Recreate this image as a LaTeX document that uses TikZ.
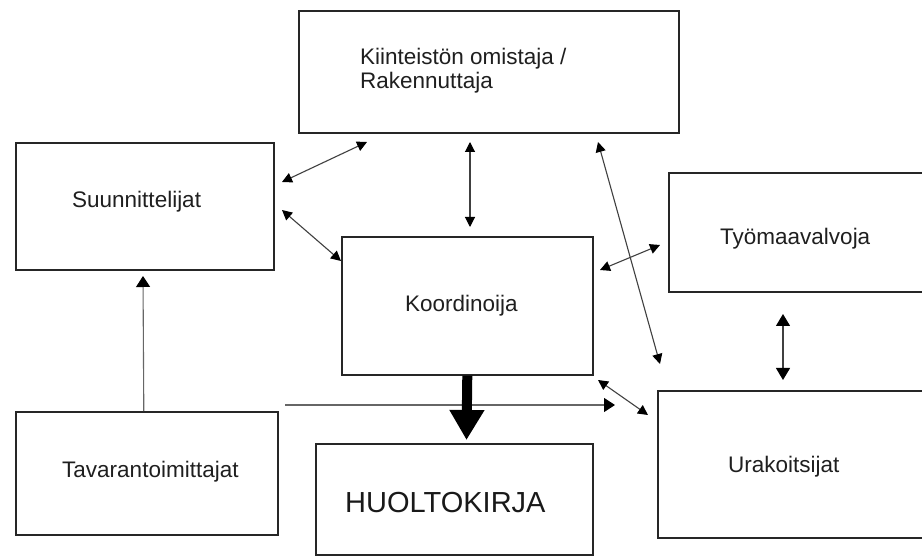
\documentclass[tikz,border=0pt]{standalone}
\usepackage{fontspec}
\setmainfont{Liberation Sans}
\usetikzlibrary{arrows.meta}
\begin{document}
\begin{tikzpicture}[x=1pt,y=-1pt,
  box/.style={draw=black!85,line width=1.6pt,inner sep=0pt,anchor=north west},
  lbl/.style={anchor=base west,inner sep=0pt,font=\fontsize{22.5pt}{19pt}\selectfont,text=black!88},
  big/.style={anchor=base west,inner sep=0pt,font=\fontsize{29pt}{30pt}\selectfont,text=black!90},
  dbl/.style={draw=black!75,line width=1.1pt,{Triangle[length=10pt,width=10pt,color=black]}-{Triangle[length=10pt,width=10pt,color=black]}},
  one/.style={draw=black!60,line width=1.1pt,-{Triangle[length=11pt,width=14pt,color=black]}},
  thick arrow/.style={draw=black,line width=10pt,-{Triangle[length=30pt,width=33pt]}}]
\useasboundingbox (0,0) rectangle (922,556);
\clip (0,0) rectangle (922,556);
\fill[white] (0,0) rectangle (922,556);
% boxes
\node[box,minimum width=380pt,minimum height=122pt] (K) at (298,10) {};
\node[box,minimum width=258pt,minimum height=127pt] (S) at (15,142) {};
\node[box,minimum width=251pt,minimum height=138pt] (C) at (341,236) {};
\node[box,minimum width=262pt,minimum height=119pt] (T) at (668,172) {};
\node[box,minimum width=273pt,minimum height=147pt] (U) at (657,390) {};
\node[box,minimum width=262pt,minimum height=123pt] (Tav) at (15,411) {};
\node[box,minimum width=277pt,minimum height=111pt] (H) at (315,443) {};
% texts
\node[lbl] (tK1) at (360,65) {Kiinteistön omistaja /};
\node[lbl] (tK2) at (360,89) {Rakennuttaja};
\node[lbl] (tS) at (72,208) {Suunnittelijat};
\node[lbl] (tC) at (405,312) {Koordinoija};
\node[lbl] (tT) at (720,245) {Työmaavalvoja};
\node[lbl] (tU) at (728,472) {Urakoitsijat};
\node[lbl] (tTav) at (62,477) {Tavarantoimittajat};
\node[big] (tH) at (345,512) {HUOLTOKIRJA};
% connector end points
\coordinate (sk1) at (282,182); \coordinate (sk2) at (367,142);
\coordinate (sc1) at (282,210); \coordinate (sc2) at (341,261);
\coordinate (kc1) at (470,142); \coordinate (kc2) at (470,227);
\coordinate (ku1) at (598,142); \coordinate (ku2) at (660,364);
\coordinate (ct1) at (600,270); \coordinate (ct2) at (660,245);
\coordinate (tu1) at (783,314); \coordinate (tu2) at (783,380);
\coordinate (cu1) at (598,380); \coordinate (cu2) at (648,415);
\coordinate (ts2) at (143,276);
\coordinate (hz1) at (285,405); \coordinate (hz2) at (615,405);
\coordinate (th2) at (466.5,440);
% connectors
\draw[dbl] (sk1) -- (sk2);
\draw[dbl] (sc1) -- (sc2);
\draw[dbl] (kc1) -- (kc2);
\draw[dbl] (ku1) -- (ku2);
\draw[dbl] (ct1) -- (ct2);
\draw[dbl,{Triangle[length=12pt,width=14pt,color=black]}-{Triangle[length=12pt,width=14pt,color=black]}] (tu1) -- (tu2);
\draw[dbl] (cu1) -- (cu2);
\draw[one] ([xshift=-3pt]Tav.north) -- (ts2);
\draw[one] (hz1) -- (hz2);
\draw[thick arrow] (C.south) -- (th2);
\end{tikzpicture}
\end{document}
